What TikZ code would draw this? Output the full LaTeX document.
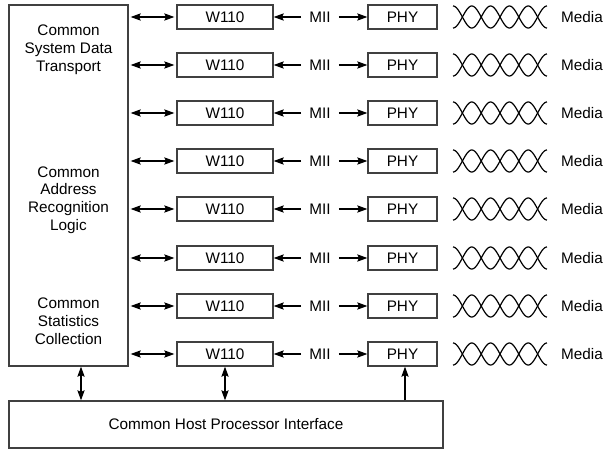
\documentclass[tikz,border=0pt]{standalone}
\usepackage{fontspec}
\setmainfont{Liberation Sans}
\usetikzlibrary{arrows.meta}
\newcommand\diafont{\fontsize{15.3}{17.8}\selectfont}
\begin{document}
\begin{tikzpicture}[x=1pt,y=-1pt,
  box/.style={draw=black!75, line width=1.1pt, inner sep=0pt, font=\diafont},
  lbl/.style={inner sep=0pt, font=\diafont, align=center},
  tip/.tip={Stealth[length=10pt,width=7pt,inset=1.5pt]},
  dbl/.style={tip-tip, line width=2pt},
  sgl/.style={-tip, line width=2pt},
  wire/.style={line width=1.2pt}]
\useasboundingbox (0,0) rectangle (605,450);
% left big box
\node[box, minimum width=119pt, minimum height=361pt] (L) at (68.5,185.5) {};
\node[lbl] (t1) at (68.5,50) {Common\\System Data\\Transport};
\node[lbl] (t2) at (68.5,200) {Common\\Address\\Recognition\\Logic};
\node[lbl] (t3) at (68.5,321) {Common\\Statistics\\Collection};
% bottom box
\node[box, minimum width=434pt, minimum height=47pt] (H) at (226,424.5) {Common Host Processor Interface};
\foreach \i/\yc in {0/17,1/65,2/113,3/161,4/209,5/258,6/306,7/354}{
  \node[box, minimum width=96pt, minimum height=24pt] (w\i) at (225,\yc) {W110};
  \node[box, minimum width=69pt, minimum height=24pt] (p\i) at (402.5,\yc) {PHY};
  \node[lbl, inner xsep=8pt] (m\i) at (320,\yc) {MII};
  \node[lbl, anchor=west] (d\i) at (561,\yc) {Media};
  \draw[dbl, shorten <=2pt, shorten >=2pt] (L.east |- w\i.west) -- (w\i.west);
  \draw[sgl] (m\i.west) -- (w\i.east);
  \draw[sgl] (m\i.east) -- (p\i.west);
  \draw[wire] plot[domain=0:5, samples=120, smooth] ({453+\x*18.8},{\yc+11*cos(\x*180)});
  \draw[wire] plot[domain=0:5, samples=120, smooth] ({453+\x*18.8},{\yc-11*cos(\x*180)});
}
\coordinate (v1) at (81,0);
\coordinate (v3) at (405,0);
\draw[dbl] (L.south -| v1) -- (H.north -| v1);
\draw[dbl] (w7.south) -- (H.north -| w7.south);
\draw[sgl] (H.north -| v3) -- (p7.south -| v3);
\end{tikzpicture}
\end{document}
